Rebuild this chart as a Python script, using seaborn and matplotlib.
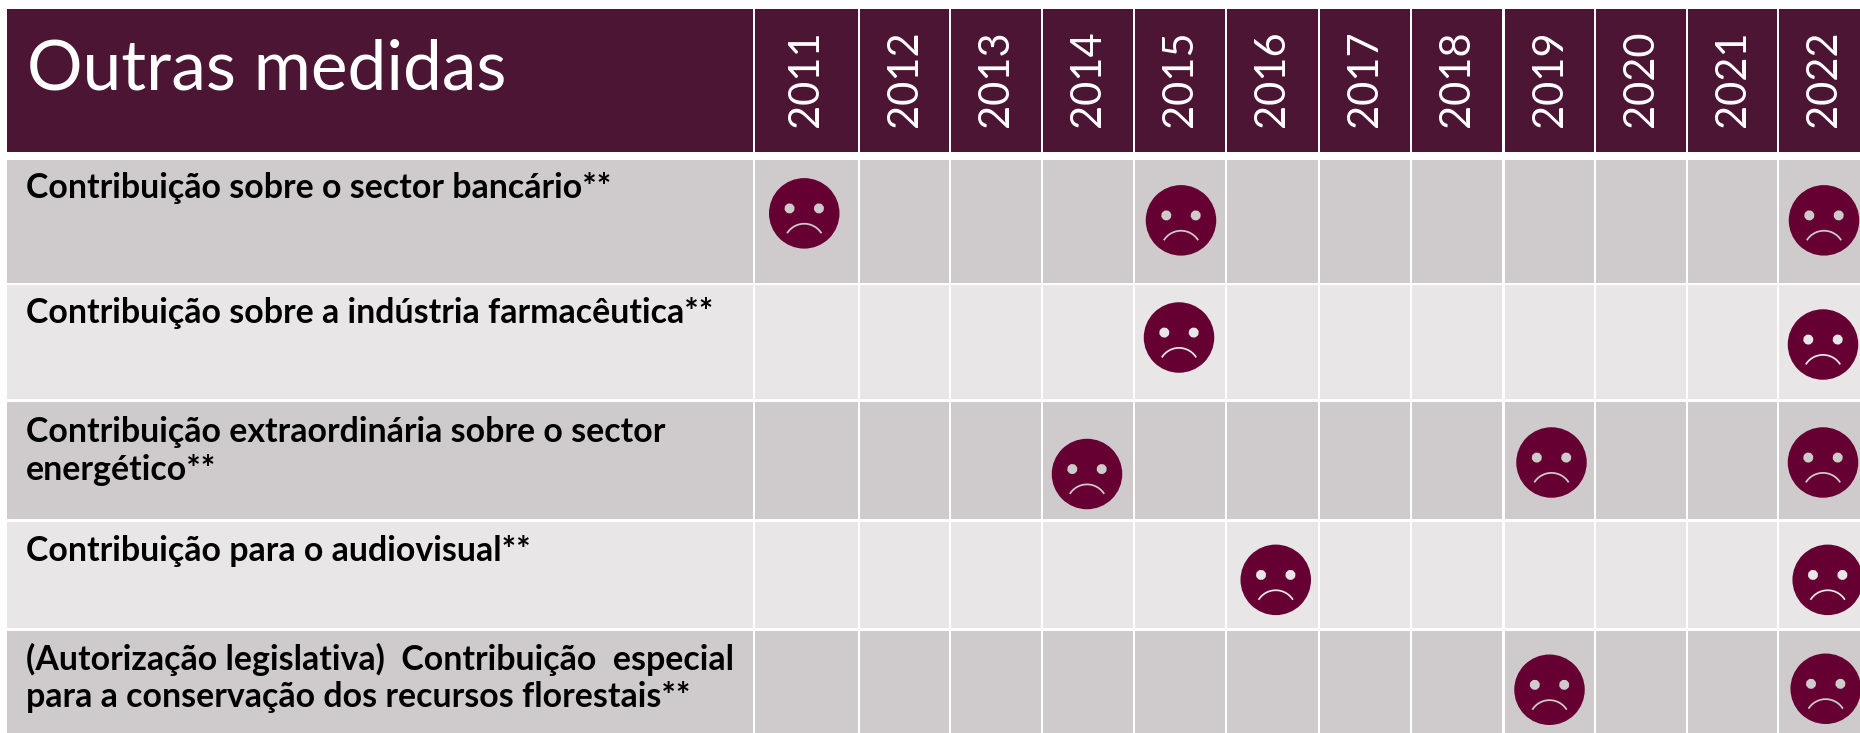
import numpy as np
import pandas as pd
import matplotlib
matplotlib.use("Agg")
import matplotlib.pyplot as plt
from matplotlib.path import Path
from matplotlib.patches import Rectangle
import seaborn as sns

# ---- data ----
title = "Outras medidas"
years = [2011, 2012, 2013, 2014, 2015, 2016, 2017, 2018, 2019, 2020, 2021, 2022]
measures = [
    "Contribuição sobre o sector bancário**",
    "Contribuição sobre a indústria farmacêutica**",
    "Contribuição extraordinária sobre o sector\nenergético**",
    "Contribuição para o audiovisual**",
    "(Autorização legislativa)  Contribuição  especial\npara a conservação dos recursos florestais**",
]
mark_row = [0, 0, 0, 1, 1, 2, 2, 2, 3, 3, 4, 4]
mark_year = [2011, 2015, 2022, 2015, 2022, 2014, 2019, 2022, 2016, 2022, 2019, 2022]

# ---- layout (pixels) ----
W, H = 1860, 733
COL_EDGES = [(7, 752.5), (755, 857.5), (860, 949), (951, 1041), (1043, 1133), (1135, 1225),
             (1227, 1317.5), (1319.5, 1409.5), (1412, 1502), (1505, 1594), (1596, 1686), (1688, 1777), (1779, 1860)]
ROW_EDGES = [(160, 282.7), (285, 399), (402, 519), (521.7, 628), (630.5, 733)]
HEAD = (9, 152)
LABEL_DY = [12, 12, 14, 13, 12]
# nudge of each mark from the centre of its cell
NUDGE_X = [-2, 1, -1, -1, -2, -1, 2, -2, 3.5, 2.7, 0, 0.7]
NUDGE_Y = [-8, -1, -1, -4.5, 2.5, 13.5, 2, 2, 5, 5, 8, 7]

HEAD_C, DARK, LIGHT, FACE = "#4C1533", "#CFCBCC", "#E8E6E7", "#660033"

sns.set_theme(style="white")
plt.rcParams["font.family"] = ["Lato", "DejaVu Sans"]

fig = plt.figure(figsize=(W / 100, H / 100), dpi=100, facecolor="white")
ax = fig.add_axes([0, 0, 1, 1])


def rect(x0, x1, y0, y1, c):
    ax.add_patch(Rectangle((x0, y0), x1 - x0, y1 - y0, fc=c, ec="none", lw=0))


for x0, x1 in COL_EDGES:
    rect(x0, x1, HEAD[0], HEAD[1], HEAD_C)
for i, (y0, y1) in enumerate(ROW_EDGES):
    for x0, x1 in COL_EDGES:
        rect(x0, x1, y0, y1, DARK if i % 2 == 0 else LIGHT)


def circle(cx, cy, r, reverse=False):
    c = Path.unit_circle()
    v = c.vertices * r + [cx, cy]
    if reverse:
        return Path(v[::-1], c.codes.copy())
    return Path(v, c.codes)


def mouth():
    t = np.linspace(np.radians(32), np.radians(148), 30)
    outer = np.c_[0.60 * np.cos(t[::-1]), -0.87 + 0.60 * np.sin(t[::-1])]
    inner = np.c_[0.55 * np.cos(t), -0.87 + 0.55 * np.sin(t)]
    v = np.vstack([outer, inner, outer[:1]])
    codes = [Path.MOVETO] + [Path.LINETO] * (len(v) - 2) + [Path.CLOSEPOLY]
    return Path(v, codes)


face = Path.make_compound_path(
    circle(0, 0, 1),
    circle(-0.417, 0.14, 0.14, True),
    circle(0.417, 0.14, 0.14, True),
    mouth(),
)

centers = {y: (COL_EDGES[i + 1][0] + COL_EDGES[i + 1][1]) / 2 for i, y in enumerate(years)}
centers[2022] = 1825
marks = pd.DataFrame({
    "x": [centers[y] + n for y, n in zip(mark_year, NUDGE_X)],
    "y": [(ROW_EDGES[r][0] + ROW_EDGES[r][1]) / 2 + n for r, n in zip(mark_row, NUDGE_Y)],
})
sns.scatterplot(data=marks, x="x", y="y", marker=face, s=(70.5 * 0.72) ** 2, color=FACE,
                linewidth=0, edgecolor="none", ax=ax, zorder=4)

ax.text(27, 89, title, color="white", fontsize=50, va="baseline", ha="left")
for y in years:
    ax.text(centers[y] - (1 if y == 2022 else 0), 127, str(y), color="white", fontsize=30,
            rotation=90, ha="center", va="bottom")
for i, m in enumerate(measures):
    ax.text(26, ROW_EDGES[i][0] + LABEL_DY[i], m, color="black", fontsize=24.4, fontweight="bold",
            va="top", ha="left", linespacing=1.22)

ax.set_xlim(0, W)
ax.set_ylim(H, 0)
ax.set_xlabel("")
ax.set_ylabel("")
ax.set_axis_off()
fig.savefig("out.png", dpi=100, facecolor="white")
